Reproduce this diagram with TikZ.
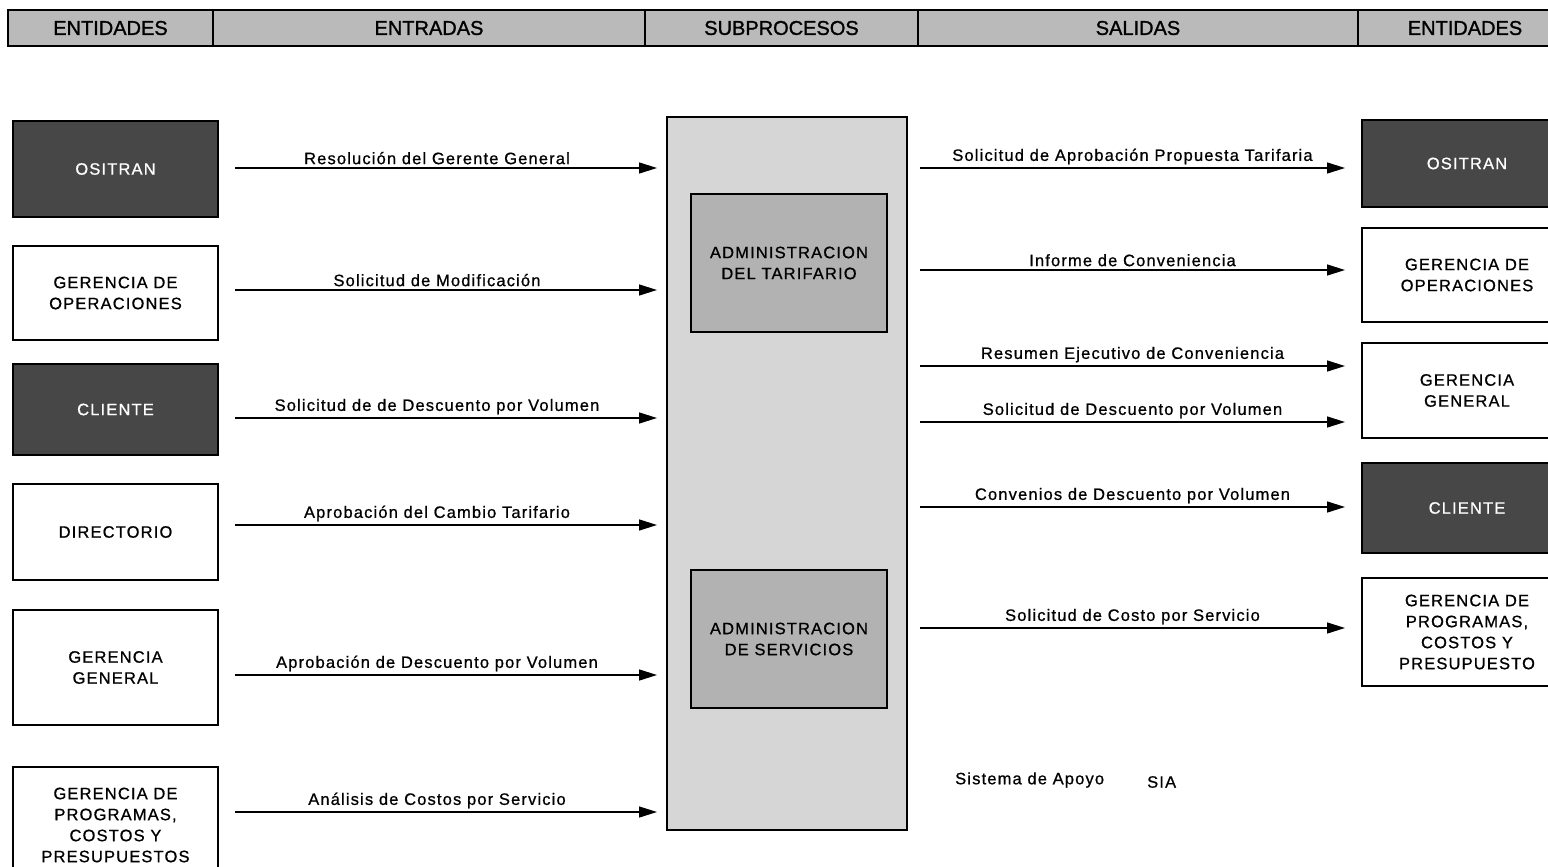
\documentclass[tikz,border=0pt]{standalone}
\usepackage{fontspec}
\setmainfont{Liberation Sans}
\usetikzlibrary{arrows.meta}
\newcommand\lbltext{\fontsize{16.5}{21}\selectfont\addfontfeatures{LetterSpace=7,FakeBold=0.8}}
\newcommand\hdtext{\fontsize{20}{24}\selectfont\addfontfeatures{FakeBold=1.2}}
\begin{document}
\begin{tikzpicture}[x=1pt,y=-1pt,
  cell/.style={draw=black, line width=1.2pt, fill=black!27, inner sep=0pt, outer sep=0pt,
    minimum height=36pt, font=\hdtext},
  entbox/.style={draw=black, line width=1.2pt, fill=white, align=center, inner sep=0pt,
    outer sep=0pt, font=\lbltext},
  darkbox/.style={entbox, fill=black!72, text=white!85},
  subbox/.style={draw=black, line width=1.5pt, fill=black!16, inner sep=0pt, outer sep=0pt},
  procbox/.style={draw=black, line width=1.2pt, fill=black!30, align=center, inner sep=0pt,
    outer sep=0pt, minimum width=196pt, minimum height=138pt, font=\lbltext},
  flow/.style={line width=1.4pt, -{Triangle[length=18pt,width=11pt]}},
  flowlabel/.style={above, inner sep=3pt, font=\lbltext},
  inlabel/.style={flowlabel, xshift=-9pt},
]
\useasboundingbox (0,0) rectangle (1548,867);

% column headings
\node[cell, minimum width=205pt] (h1) at (110.5,28) {ENTIDADES};
\node[cell, minimum width=432pt] (h2) at (429,28) {ENTRADAS};
\node[cell, minimum width=273pt] (h3) at (781.5,28) {SUBPROCESOS};
\node[cell, minimum width=440pt] (h4) at (1138,28) {SALIDAS};
\node[cell, minimum width=214pt] (h5) at (1465,28) {ENTIDADES};

% entities on the input side
\node[darkbox, minimum width=205pt, minimum height=96pt] (inOsitran) at (115.5,169) {OSITRAN};
\node[entbox, minimum width=205pt, minimum height=94pt] (inGop) at (115.5,293) {GERENCIA DE\\OPERACIONES};
\node[darkbox, minimum width=205pt, minimum height=91pt] (inCliente) at (115.5,409.5) {CLIENTE};
\node[entbox, minimum width=205pt, minimum height=96pt] (inDir) at (115.5,532) {DIRECTORIO};
\node[entbox, minimum width=205pt, minimum height=115pt] (inGg) at (115.5,667.5) {GERENCIA\\GENERAL};
\node[entbox, minimum width=205pt, minimum height=116pt] (inGpcp) at (115.5,825) {GERENCIA DE\\PROGRAMAS,\\COSTOS Y\\PRESUPUESTOS};

% subprocesses
\node[subbox, minimum width=240pt, minimum height=713pt] (sub) at (787,473.5) {};
\node[procbox] (tarifario) at (789,263) {ADMINISTRACION\\DEL TARIFARIO};
\node[procbox] (servicios) at (789,639) {ADMINISTRACION\\DE SERVICIOS};

% entities on the output side
\node[darkbox, minimum width=210pt, minimum height=87pt] (outOsitran) at (1467,163.5) {OSITRAN};
\node[entbox, minimum width=210pt, minimum height=94pt] (outGop) at (1467,275) {GERENCIA DE\\OPERACIONES};
\node[entbox, minimum width=210pt, minimum height=95pt] (outGg) at (1467,390.5) {GERENCIA\\GENERAL};
\node[darkbox, minimum width=210pt, minimum height=90pt] (outCliente) at (1467,508) {CLIENTE};
\node[entbox, minimum width=210pt, minimum height=108pt] (outGpcp) at (1467,632) {GERENCIA DE\\PROGRAMAS,\\COSTOS Y\\PRESUPUESTO};

% arrow end points
\foreach \n/\y in {1/168, 2/290, 3/418, 4/525, 5/675, 6/812} {
  \coordinate (ia\n) at (235,\y);
  \coordinate (ib\n) at (657,\y);
}
\foreach \n/\y in {1/168, 2/270, 3/366, 4/422, 5/507, 6/628} {
  \coordinate (oa\n) at (920,\y);
  \coordinate (ob\n) at (1345,\y);
}

% inputs
\draw[flow] (ia1) -- node[inlabel] (li1) {Resolución del Gerente General} (ib1);
\draw[flow] (ia2) -- node[inlabel] (li2) {Solicitud de Modificación} (ib2);
\draw[flow] (ia3) -- node[inlabel] (li3) {Solicitud de de Descuento por Volumen} (ib3);
\draw[flow] (ia4) -- node[inlabel] (li4) {Aprobación del Cambio Tarifario} (ib4);
\draw[flow] (ia5) -- node[inlabel] (li5) {Aprobación de Descuento por Volumen} (ib5);
\draw[flow] (ia6) -- node[inlabel] (li6) {Análisis de Costos por Servicio} (ib6);

% outputs
\draw[flow] (oa1) -- node[flowlabel] (lo1) {Solicitud de Aprobación Propuesta Tarifaria} (ob1);
\draw[flow] (oa2) -- node[flowlabel] (lo2) {Informe de Conveniencia} (ob2);
\draw[flow] (oa3) -- node[flowlabel] (lo3) {Resumen Ejecutivo de Conveniencia} (ob3);
\draw[flow] (oa4) -- node[flowlabel] (lo4) {Solicitud de Descuento por Volumen} (ob4);
\draw[flow] (oa5) -- node[flowlabel] (lo5) {Convenios de Descuento por Volumen} (ob5);
\draw[flow] (oa6) -- node[flowlabel] (lo6) {Solicitud de Costo por Servicio} (ob6);

% support system
\node[anchor=west, inner sep=0pt, font=\lbltext] (apoyo) at (955,780) {Sistema de Apoyo};
\node[anchor=west, inner sep=0pt, font=\lbltext] (sia) at (1147,782) {SIA};
\end{tikzpicture}
\end{document}
